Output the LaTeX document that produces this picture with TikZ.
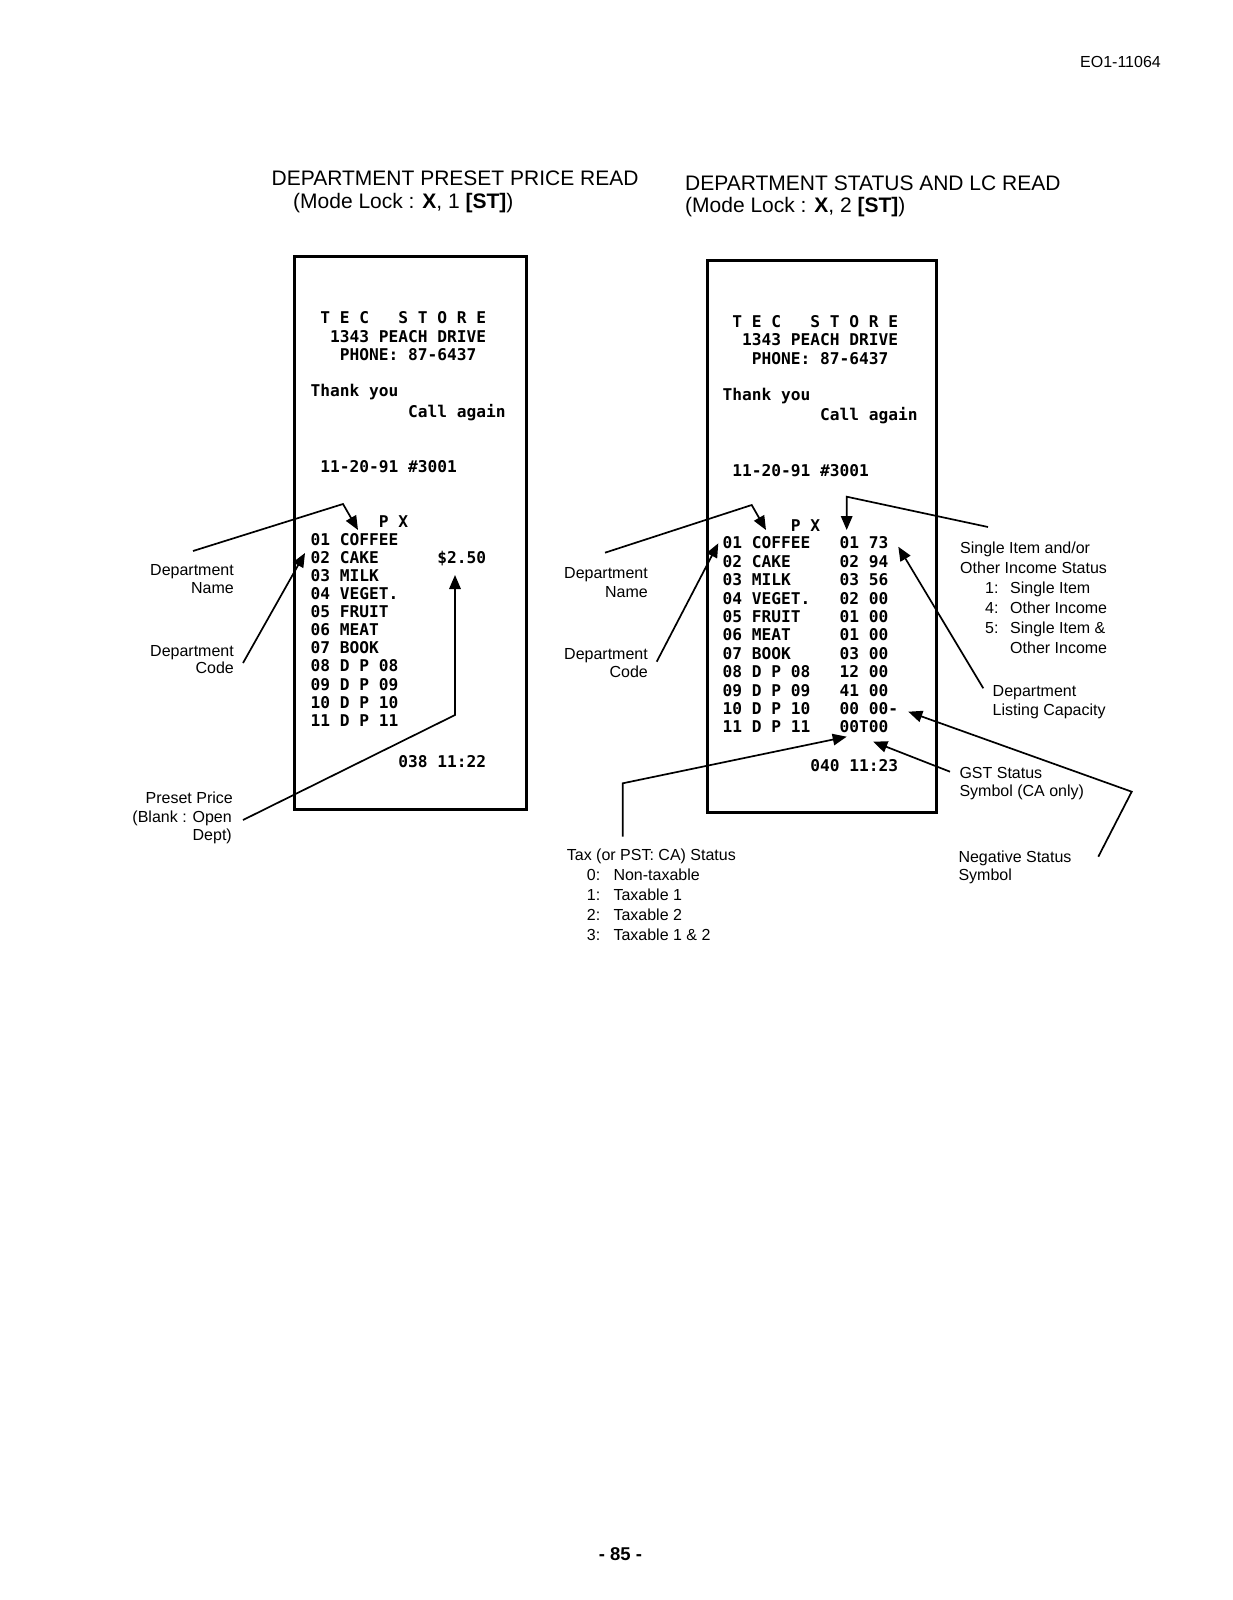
\documentclass[tikz,border=0pt]{standalone}
\usepackage{fontspec}
\setmainfont{Liberation Sans}
\newfontfamily\rcptfont{DejaVu Sans Mono}
\usetikzlibrary{arrows.meta}
\begin{document}
\begin{tikzpicture}[x=1pt,y=-1pt,
  lbl/.style={inner sep=0pt, font=\fontsize{16}{19}\selectfont},
  lbe/.style={lbl, anchor=base east},
  lbw/.style={lbl, anchor=base west},
  rc/.style={inner sep=0pt, anchor=base west, font=\rcptfont\bfseries\fontsize{16.2}{18}\selectfont},
  paper/.style={draw, line width=3.4pt, inner sep=0pt, anchor=north west},
  conn/.style={draw, line width=1.7pt, line join=miter},
  arr/.style={conn, -{Triangle[length=14pt,width=11.5pt]}},
  ttl/.style={inner sep=0pt, anchor=base west, font=\fontsize{21}{24}\selectfont}]
\fill[white] (0,0) rectangle (1233,1600);
\useasboundingbox (0,0) rectangle (1233,1600);

% header and titles
\node[inner sep=0pt, anchor=base east, font=\fontsize{16}{18}\selectfont] (docno) at (1161,68) {EO1-11064};
\node[ttl] (t1a) at (271.5,185) {DEPARTMENT PRESET PRICE READ};
\node[ttl] (t1b) at (293,208.5) {(Mode Lock : \textbf{X}, 1 \textbf{[ST]})};
\node[ttl] (t2a) at (685,190) {DEPARTMENT STATUS AND LC READ};
\node[ttl] (t2b) at (685,212.5) {(Mode Lock : \textbf{X}, 2 \textbf{[ST]})};
\node[inner sep=0pt, font=\bfseries\fontsize{18.5}{20}\selectfont] (pg) at (620.5,1554.5) {- 85 -};

% receipt papers
\node[paper, minimum width=232pt, minimum height=553pt] (Lbox) at (293,255) {};
\node[paper, minimum width=229pt, minimum height=552pt] (Rbox) at (706,259) {};

% left receipt
\node[rc] (Ltec) at (320.25,323) {T~E~C~~~S~T~O~R~E};
\node[rc] (Laddr) at (330,342.5) {1343 PEACH DRIVE};
\node[rc] (Lphone) at (339.75,360) {PHONE: 87-6437};
\node[rc] (Lthank) at (310.5,396.5) {Thank you};
\node[rc] (Lcall) at (408,417.5) {Call again};
\node[rc] (Ldate) at (320.25,472.5) {11-20-91 \#3001};
\node[rc] (Lpx) at (378.75,527.5) {P X};
\node[rc] (L01) at (310.5,545.2) {01 COFFEE};
\node[rc] (L02) at (310.5,563.3) {02 CAKE};
\node[rc] (L03) at (310.5,581.4) {03 MILK};
\node[rc] (L04) at (310.5,599.5) {04 VEGET.};
\node[rc] (L05) at (310.5,617.6) {05 FRUIT};
\node[rc] (L06) at (310.5,635.7) {06 MEAT};
\node[rc] (L07) at (310.5,653.8) {07 BOOK};
\node[rc] (L08) at (310.5,671.9) {08 D P 08};
\node[rc] (L09) at (310.5,690.0) {09 D P 09};
\node[rc] (L10) at (310.5,708.1) {10 D P 10};
\node[rc] (L11) at (310.5,726.2) {11 D P 11};
\node[rc] (Lprice) at (437.25,563.3) {\$2.50};
\node[rc] (Lend) at (398.25,767) {038 11:22};

% right receipt
\node[rc] (Rtec) at (732.25,327) {T~E~C~~~S~T~O~R~E};
\node[rc] (Raddr) at (742,345) {1343 PEACH DRIVE};
\node[rc] (Rphone) at (751.75,364) {PHONE: 87-6437};
\node[rc] (Rthank) at (722.5,400) {Thank you};
\node[rc] (Rcall) at (820,420) {Call again};
\node[rc] (Rdate) at (732.25,476) {11-20-91 \#3001};
\node[rc] (Rpx) at (790.75,531) {P X};
\node[rc] (R01) at (722.5,548.8) {01 COFFEE};
\node[rc] (R02) at (722.5,567.2) {02 CAKE};
\node[rc] (R03) at (722.5,585.6) {03 MILK};
\node[rc] (R04) at (722.5,604.0) {04 VEGET.};
\node[rc] (R05) at (722.5,622.4) {05 FRUIT};
\node[rc] (R06) at (722.5,640.8) {06 MEAT};
\node[rc] (R07) at (722.5,659.2) {07 BOOK};
\node[rc] (R08) at (722.5,677.6) {08 D P 08};
\node[rc] (R09) at (722.5,696.0) {09 D P 09};
\node[rc] (R10) at (722.5,714.4) {10 D P 10};
\node[rc] (R11) at (722.5,732.8) {11 D P 11};
\node[rc] (S01) at (839.5,548.8) {01 73};
\node[rc] (S02) at (839.5,567.2) {02 94};
\node[rc] (S03) at (839.5,585.6) {03 56};
\node[rc] (S04) at (839.5,604.0) {02 00};
\node[rc] (S05) at (839.5,622.4) {01 00};
\node[rc] (S06) at (839.5,640.8) {01 00};
\node[rc] (S07) at (839.5,659.2) {03 00};
\node[rc] (S08) at (839.5,677.6) {12 00};
\node[rc] (S09) at (839.5,696.0) {41 00};
\node[rc] (S10) at (839.5,714.4) {00 00-};
\node[rc] (S11) at (839.5,732.8) {00T00};
\node[rc] (Rend) at (810.25,771) {040 11:23};

% left labels
\node[lbe] (ldn1) at (234,575) {Department};
\node[lbe] (ldn2) at (234,593) {Name};
\node[lbe] (ldc1) at (234,656) {Department};
\node[lbe] (ldc2) at (234,673.5) {Code};
\node[lbe] (lpp1) at (233,803.5) {Preset Price};
\node[lbe] (lpp2) at (232,822.2) {(Blank : Open};
\node[lbe] (lpp3) at (232,840.7) {Dept)};

% right labels
\node[lbe] (rdn1) at (648,578.4) {Department};
\node[lbe] (rdn2) at (648,597) {Name};
\node[lbe] (rdc1) at (648,659) {Department};
\node[lbe] (rdc2) at (648,677.4) {Code};
\node[lbw] (si1) at (960,553) {Single Item and/or};
\node[lbw] (si2) at (960,573) {Other Income Status};
\node[lbw] (si3n) at (985,593) {1:};
\node[lbw] (si3) at (1010,593) {Single Item};
\node[lbw] (si4n) at (985,613) {4:};
\node[lbw] (si4) at (1010,613) {Other Income};
\node[lbw] (si5n) at (985,633) {5:};
\node[lbw] (si5) at (1010,633) {Single Item \&};
\node[lbw] (si6) at (1010,653) {Other Income};
\node[lbw] (lc1) at (992.5,696.5) {Department};
\node[lbw] (lc2) at (992.5,715) {Listing Capacity};
\node[lbw] (gst1) at (959.3,778.3) {GST Status};
\node[lbw] (gst2) at (959.3,796.5) {Symbol (CA only)};
\node[lbw] (neg1) at (958.3,862.3) {Negative Status};
\node[lbw] (neg2) at (958.3,880.5) {Symbol};
\node[lbw] (tx0) at (566.7,860) {Tax (or PST: CA) Status};
\node[lbw] (tx1n) at (586.7,880) {0:};
\node[lbw] (tx1) at (613.3,880) {Non-taxable};
\node[lbw] (tx2n) at (586.7,900) {1:};
\node[lbw] (tx2) at (613.3,900) {Taxable 1};
\node[lbw] (tx3n) at (586.7,920) {2:};
\node[lbw] (tx3) at (613.3,920) {Taxable 2};
\node[lbw] (tx4n) at (586.7,940) {3:};
\node[lbw] (tx4) at (613.3,940) {Taxable 1 \& 2};

% connector points
\coordinate (a1s) at (193,551);   \coordinate (a1b) at (343,504);   \coordinate (a1t) at (358,530);
\coordinate (a2s) at (243,663);   \coordinate (a2t) at (305,553);
\coordinate (a3s) at (243,820);   \coordinate (a3b) at (455,715);   \coordinate (a3t) at (455,575);
\coordinate (b1s) at (605,552.7); \coordinate (b1b) at (751.7,505); \coordinate (b1t) at (766,530);
\coordinate (b2s) at (656.7,661.7); \coordinate (b2t) at (718.3,543.3);
\coordinate (b3s) at (988,527);   \coordinate (b3b) at (846.7,496.7); \coordinate (b3t) at (846.7,530);
\coordinate (b4s) at (983.3,688.3); \coordinate (b4t) at (898.3,546.7);
\coordinate (b5s) at (950,771.7); \coordinate (b5t) at (873.3,741.7);
\coordinate (b6s) at (1098.3,856.7); \coordinate (b6b) at (1131.7,791.7); \coordinate (b6t) at (908.3,711.7);
\coordinate (b7s) at (622.7,836.7); \coordinate (b7b) at (622.7,783.3); \coordinate (b7t) at (846.7,736.7);

% connectors
\draw[arr] (a1s) -- (a1b) -- (a1t);
\draw[arr] (a2s) -- (a2t);
\draw[arr] (a3s) -- (a3b) -- (a3t);
\draw[arr] (b1s) -- (b1b) -- (b1t);
\draw[arr] (b2s) -- (b2t);
\draw[arr] (b3s) -- (b3b) -- (b3t);
\draw[arr] (b4s) -- (b4t);
\draw[arr] (b5s) -- (b5t);
\draw[arr] (b6s) -- (b6b) -- (b6t);
\draw[arr] (b7s) -- (b7b) -- (b7t);
\end{tikzpicture}
\end{document}
